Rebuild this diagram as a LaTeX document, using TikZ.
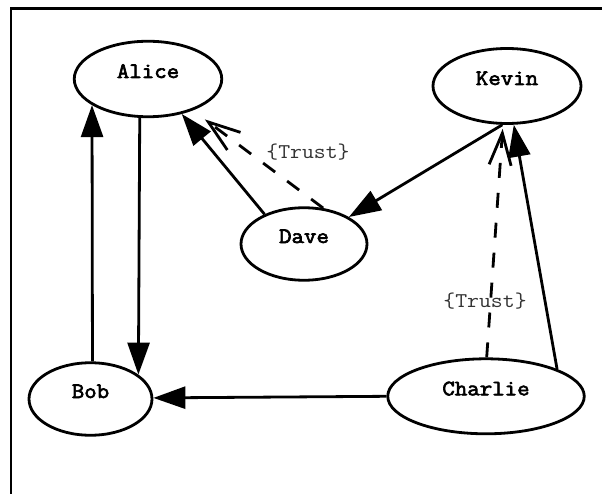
\documentclass[tikz,border=0pt]{standalone}
\usepackage{fontspec}
\usetikzlibrary{shapes.geometric,arrows.meta}
\newfontfamily\nodefnt{Latin Modern Mono}[FakeStretch=1.1, FakeBold=3]
\newfontfamily\lblfnt{Latin Modern Mono}[FakeStretch=1.1]
\begin{document}
\begin{tikzpicture}[x=1bp,y=-1bp,
  ell/.style={draw, ellipse, line width=2.8bp, inner sep=0pt,
    font=\nodefnt\fontsize{22bp}{26bp}\selectfont,
    text height=13bp, text depth=15bp},
  conn/.style={line width=2.8bp, -{Triangle[length=32bp,width=22bp]}},
  trust/.style={line width=2.8bp, dash pattern=on 15bp off 15bp,
    -{Straight Barb[length=32bp,width=22bp]}},
  trustlbl/.style={inner sep=0pt, text=black!80,
    font=\lblfnt\fontsize{21bp}{25bp}\selectfont},
  frame/.style={line width=2.8bp}
]
\useasboundingbox (0,0) rectangle (602,494);
\clip (0,0) rectangle (602,494);
\draw[frame] (11,494) -- (11,8.3) -- (602,8.3);

\node[ell, minimum width=147.5bp, minimum height=75.5bp] (alice) at (148,79) {Alice};
\node[ell, minimum width=148bp, minimum height=75bp] (kevin) at (507,86) {Kevin};
\node[ell, minimum width=126bp, minimum height=72.5bp] (dave) at (304,244) {Dave};
\node[ell, minimum width=123bp, minimum height=72.5bp] (bob) at (90.5,399) {Bob};
\node[ell, minimum width=196.5bp, minimum height=75bp] (charlie) at (486,396.3) {Charlie};

\node[trustlbl] (t1) at (308,152) {\{Trust\}};
\node[trustlbl] (t2) at (485,301) {\{Trust\}};

\draw[conn] (bob.87) -- (alice.205);
\draw[conn] (alice.258.3) -- (bob.27.6);
\draw[conn] (dave.143) -- (alice.314);
\draw[trust, shorten >=15bp] (dave.62) -- (alice.-35.4);
\draw[conn] (kevin.-97.7) -- (dave.31.5);
\draw[conn] (charlie.21.6) -- (kevin.-80.8);
\draw[trust, shorten >=4bp] (charlie.89.5) -- (kevin.264);
\draw[conn] (charlie.180.3) -- (bob.1);
\end{tikzpicture}
\end{document}
